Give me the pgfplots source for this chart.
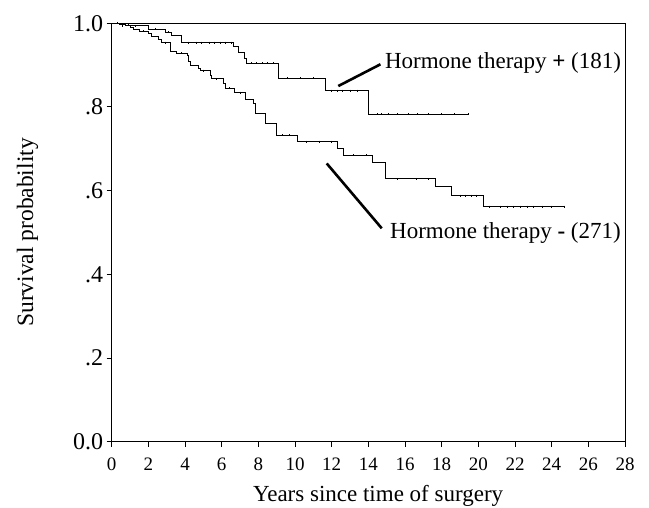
\documentclass[border=0pt]{standalone}
\usepackage{fontspec}
\setmainfont{Liberation Serif}
\usepackage{pgfplots}
\pgfplotsset{compat=1.18}
\begin{document}
\begin{tikzpicture}[x=1pt,y=1pt]
\useasboundingbox (0,0) rectangle (649,508);
\begin{axis}[
 at={(111.7pt,66.3pt)}, anchor=south west,
 scale only axis, width=513.3pt, height=418.4pt,
 xmin=0, xmax=28, ymin=0, ymax=1,
 xtick={0,2,...,28}, xticklabels={0,2,4,6,8,10,12,14,16,18,20,22,24,26,28},
 ytick={0,0.2,0.4,0.6,0.8,1}, yticklabels={0.0,.2,.4,.6,.8,1.0},
 tick align=outside, tick pos=left, major tick length=5pt,
 every tick/.style={black, line width=1pt},
 axis line style={line width=1pt},
 xticklabel style={font=\fontsize{19}{19}\selectfont, yshift=-8pt},
 yticklabel style={font=\fontsize{24}{24}\selectfont},
 xlabel={Years since time of surgery},
 ylabel={Survival probability},
 xlabel style={at={(axis description cs:0.519,-0.1434)}, anchor=base, inner sep=0pt, font=\fontsize{23}{24}\selectfont},
 ylabel style={at={(axis description cs:-0.1533,0.5)}, anchor=base, inner sep=0pt, font=\fontsize{23.5}{24}\selectfont},
 clip=false,
]
% Hormone therapy +
\addplot[const plot, black, line width=0.9pt] coordinates {
(0,1.0) (0.9,0.994) (2.0,0.9857) (2.91,0.9785) (3.27,0.972) (3.82,0.9537)
(6.64,0.944) (6.9,0.93) (7.22,0.916) (7.33,0.904) (9.09,0.8686) (11.64,0.839)
(14.0,0.7825) (19.45,0.7825)};
% Hormone therapy -
\addplot[const plot, black, line width=0.9pt] coordinates {
(0,1.0) (0.4,0.998) (0.73,0.994) (1.0,0.99) (1.18,0.986) (1.54,0.981) (2.0,0.976)
(2.18,0.968) (2.55,0.962) (2.73,0.954) (3.22,0.932) (3.55,0.928) (4.13,0.922)
(4.18,0.908) (4.27,0.900) (4.73,0.892) (4.82,0.887) (5.36,0.876) (5.45,0.867)
(6.09,0.857) (6.18,0.845) (6.67,0.834) (7.31,0.817) (7.73,0.809) (7.82,0.785)
(8.36,0.761) (9.0,0.733) (10.13,0.717) (12.31,0.701) (12.64,0.685) (14.2,0.667)
(14.91,0.628) (17.64,0.6095) (18.55,0.588) (20.27,0.5617) (24.7,0.5617)};
% censor marks
\addplot[only marks, mark=|, mark size=1pt, black, mark options={line width=0.7pt}] coordinates {
(0.3,1.0) (0.6,0.994) (1.3,0.994) (2.4,0.9857) (3.1,0.9785)
(4.2,0.9537) (4.6,0.9537) (4.9,0.9537) (5.3,0.9537) (5.6,0.9537) (5.9,0.9537) (6.2,0.9537) (6.5,0.9537)
(7.6,0.904) (7.9,0.904) (8.2,0.904) (8.5,0.904) (8.8,0.904)
(9.6,0.8686) (10.3,0.8686) (11.0,0.8686)
(12.0,0.839) (12.3,0.839) (12.6,0.839) (13.0,0.839) (13.4,0.839)
(14.5,0.7825) (14.7,0.7825) (15.1,0.7825) (15.6,0.7825) (16.2,0.7825) (16.7,0.7825) (17.3,0.7825) (18.0,0.7825) (18.7,0.7825) (19.45,0.7825)};
\addplot[only marks, mark=|, mark size=1pt, black, mark options={line width=0.7pt}] coordinates {
(1.7,0.981) (2.9,0.954) (3.8,0.928) (5.0,0.887) (5.7,0.867) (6.4,0.845) (7.0,0.834)
(9.3,0.733) (9.7,0.733) (10.6,0.717) (11.3,0.717) (12.0,0.717)
(13.2,0.685) (13.9,0.685) (15.6,0.628) (16.6,0.628) (17.3,0.628)
(19.0,0.588) (19.3,0.588) (19.6,0.588) (19.9,0.588)
(20.6,0.5617) (21.2,0.5617) (21.6,0.5617) (21.9,0.5617) (22.3,0.5617) (22.7,0.5617) (23.0,0.5617) (23.5,0.5617) (24.0,0.5617) (24.7,0.5617)};
% annotations
\draw[line width=2.6pt] (axis cs:12.36,0.850) -- (axis cs:14.66,0.902);
\node[anchor=base west, inner sep=0pt, font=\fontsize{23}{24}\selectfont] at (axis cs:14.90,0.8925) {Hormone therapy \textbf{+} (181)};
\draw[line width=2.6pt] (axis cs:11.73,0.665) -- (axis cs:14.73,0.510);
\node[anchor=base west, inner sep=0pt, font=\fontsize{23}{24}\selectfont] at (axis cs:15.18,0.4845) {Hormone therapy \textbf{-} (271)};
\end{axis}
\end{tikzpicture}
\end{document}
